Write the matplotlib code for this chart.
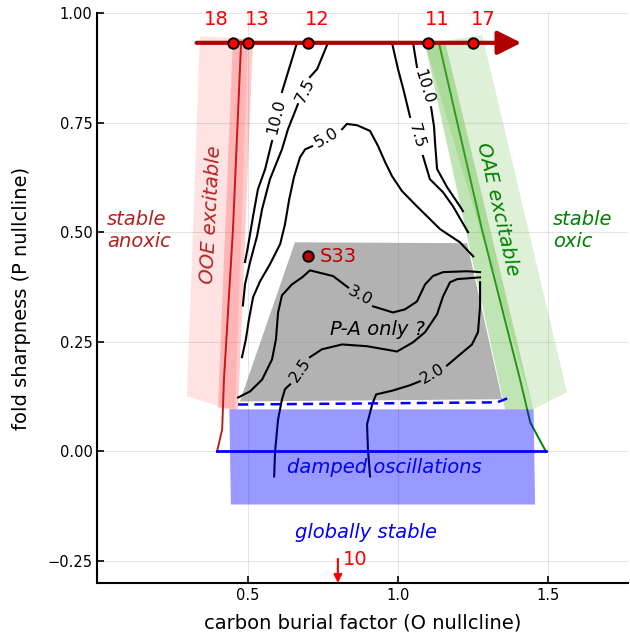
import numpy as np
import matplotlib.pyplot as plt

# runs marked along the parameter sweep at the top
run_labels = ["18", "13", "12", "11", "17"]
run_x = [0.45, 0.50, 0.70, 1.10, 1.25]
sweep_y = 0.932
sweep_x = [0.33, 1.41]
s33_x, s33_y = 0.70, 0.445
run10_x = 0.80

# fold lines of the two nullclines and the base line at zero
ooe_x = [0.478, 0.451, 0.421, 0.415, 0.398]
ooe_y = [0.932, 0.507, 0.164, 0.050, 0.0]
oae_x = [1.136, 1.279, 1.406, 1.440, 1.492]
oae_y = [0.932, 0.507, 0.164, 0.066, 0.0]
base_x = [0.398, 1.492]

# shaded regions
ooe_wide_x = [0.341, 0.501, 0.458, 0.298]
ooe_wide_y = [0.947, 0.941, 0.091, 0.126]
ooe_core_x = [0.451, 0.518, 0.468, 0.401]
ooe_core_y = [0.941, 0.941, 0.096, 0.100]
oae_wide_x = [1.090, 1.280, 1.562, 1.450]
oae_wide_y = [0.929, 0.950, 0.135, 0.096]
oae_core_x = [1.090, 1.156, 1.450, 1.356]
oae_core_y = [0.929, 0.936, 0.096, 0.096]
pa_x = [0.657, 1.230, 1.346, 0.474]
pa_y = [0.477, 0.475, 0.119, 0.114]
damped_x = [0.439, 1.451, 1.456, 0.444]
damped_y = [0.096, 0.096, -0.121, -0.121]
hopf_x = [0.468, 1.330, 1.363]
hopf_y = [0.107, 0.112, 0.121]

# period contours, each split in two where its label sits
p10a_x1 = [0.664, 0.614]
p10a_y1 = [0.932, 0.820]
p10a_x2 = [0.581, 0.558, 0.534, 0.518, 0.501, 0.491]
p10a_y2 = [0.708, 0.644, 0.598, 0.537, 0.468, 0.432]

p75a_x1 = [0.767, 0.731, 0.707]
p75a_y1 = [0.932, 0.872, 0.854]
p75a_x2 = [0.667, 0.634, 0.614, 0.574, 0.548, 0.531, 0.508, 0.491, 0.484]
p75a_y2 = [0.792, 0.735, 0.689, 0.621, 0.553, 0.491, 0.432, 0.381, 0.333]

p5_x1 = [0.481, 0.494, 0.504, 0.518, 0.541, 0.574, 0.608, 0.624, 0.638,
         0.654, 0.674, 0.691, 0.714]
p5_y1 = [0.215, 0.256, 0.301, 0.352, 0.388, 0.427, 0.473, 0.518, 0.575,
         0.626, 0.671, 0.689, 0.696]
p5_x2 = [0.814, 0.830, 0.864, 0.907, 0.934, 0.957, 0.980, 1.013, 1.063,
         1.106, 1.140, 1.206, 1.250]
p5_y2 = [0.735, 0.747, 0.744, 0.731, 0.696, 0.660, 0.628, 0.594, 0.559,
         0.530, 0.507, 0.477, 0.445]

p10b_x1 = [1.050, 1.063]
p10b_y1 = [0.932, 0.877]
p10b_x2 = [1.110, 1.120, 1.123, 1.130, 1.163, 1.206, 1.216]
p10b_y2 = [0.785, 0.740, 0.706, 0.644, 0.603, 0.559, 0.548]

p75b_x1 = [0.980, 1.000, 1.020, 1.040]
p75b_y1 = [0.932, 0.872, 0.820, 0.763]
p75b_x2 = [1.083, 1.106, 1.150, 1.183, 1.233]
p75b_y2 = [0.674, 0.621, 0.591, 0.559, 0.500]

p3_x1 = [0.468, 0.508, 0.548, 0.581, 0.594, 0.601, 0.614, 0.647, 0.681,
         0.707, 0.784, 0.834]
p3_y1 = [0.123, 0.137, 0.164, 0.210, 0.256, 0.317, 0.356, 0.381, 0.397,
         0.413, 0.400, 0.374]
p3_x2 = [0.917, 0.983, 1.023, 1.063, 1.090, 1.116, 1.150, 1.230, 1.273]
p3_y2 = [0.331, 0.317, 0.324, 0.342, 0.381, 0.400, 0.409, 0.411, 0.409]

p25_x1 = [0.588, 0.591, 0.601, 0.614, 0.624, 0.641]
p25_y1 = [-0.057, 0.000, 0.073, 0.119, 0.142, 0.153]
p25_x2 = [0.707, 0.747, 0.814, 0.897, 0.997, 1.050, 1.090, 1.130, 1.150,
          1.173, 1.197, 1.273]
p25_y2 = [0.215, 0.233, 0.244, 0.240, 0.228, 0.249, 0.272, 0.313, 0.354,
          0.386, 0.393, 0.397]

p2_x1 = [0.907, 0.900, 0.897, 0.914, 0.927, 0.983, 1.040, 1.073]
p2_y1 = [-0.057, 0.005, 0.062, 0.107, 0.130, 0.139, 0.151, 0.160]
p2_x2 = [1.163, 1.206, 1.246, 1.266, 1.273, 1.273]
p2_y2 = [0.196, 0.221, 0.244, 0.272, 0.331, 0.386]

contours = [
    (p10a_x1, p10a_y1, p10a_x2, p10a_y2, "10.0", 0.595, 0.763, 76),
    (p75a_x1, p75a_y1, p75a_x2, p75a_y2, "7.5", 0.690, 0.824, 64),
    (p5_x1, p5_y1, p5_x2, p5_y2, "5.0", 0.763, 0.715, 30),
    (p10b_x1, p10b_y1, p10b_x2, p10b_y2, "10.0", 1.087, 0.831, -73),
    (p75b_x1, p75b_y1, p75b_x2, p75b_y2, "7.5", 1.063, 0.719, -74),
    (p3_x1, p3_y1, p3_x2, p3_y2, "3.0", 0.874, 0.354, -28),
    (p25_x1, p25_y1, p25_x2, p25_y2, "2.5", 0.674, 0.185, 55),
    (p2_x1, p2_y1, p2_x2, p2_y2, "2.0", 1.116, 0.178, 30),
]

dark_red = "#b22222"
green = "#008000"

fig = plt.figure(figsize=(6.3, 6.37), dpi=100)
ax = fig.add_axes([0.1546, 0.0848, 0.8422, 0.8948])

# nullcline fold lines sit under the shaded bands
ax.plot(ooe_x, ooe_y, color=dark_red, lw=1.4, zorder=1)
ax.plot(oae_x, oae_y, color=green, lw=1.4, zorder=1)

ax.fill(ooe_wide_x, ooe_wide_y, color="red", alpha=0.11, lw=0, zorder=2)
ax.fill(ooe_core_x, ooe_core_y, color="red", alpha=0.2, lw=0, zorder=2)
ax.fill(oae_wide_x, oae_wide_y, color="#5cb83a", alpha=0.2, lw=0, zorder=2)
ax.fill(oae_core_x, oae_core_y, color="#5cb83a", alpha=0.38, lw=0, zorder=2)
ax.fill(pa_x, pa_y, color="0.5", alpha=0.6, lw=0, zorder=2)

for x1, y1, x2, y2, lab, lx, ly, rot in contours:
    ax.plot(x1, y1, color="black", lw=1.5, zorder=3)
    ax.plot(x2, y2, color="black", lw=1.5, zorder=3)
    ax.text(lx, ly, lab, fontsize=11.5, rotation=rot, ha="center",
            va="center", rotation_mode="anchor", zorder=3)

ax.fill(damped_x, damped_y, color="blue", alpha=0.4, lw=0, zorder=4)
ax.plot(base_x, [0, 0], color="blue", lw=2, zorder=5)
ax.plot(hopf_x, hopf_y, color="blue", lw=1.8, ls=(0, (4, 2.5)), zorder=5)

# sweep arrow with the marked runs
ax.annotate("", xy=(sweep_x[1], sweep_y), xytext=(sweep_x[0], sweep_y),
            arrowprops=dict(arrowstyle="-|>", color="#b00000", lw=3,
                            mutation_scale=36, shrinkA=0, shrinkB=0),
            zorder=6)
ax.plot(run_x, [sweep_y] * len(run_x), "o", ms=7.5, mfc="red", mec="black",
        mew=1.4, zorder=7)
for i, (lab, x) in enumerate(zip(run_labels, run_x)):
    # the first label is pushed left so it clears its neighbour
    if i == 0:
        ax.annotate(lab, (x, 0.985), xytext=(-3, 0), textcoords="offset points",
                    color="red", fontsize=14, ha="right", va="center")
    else:
        ax.annotate(lab, (x, 0.985), xytext=(-2, 0), textcoords="offset points",
                    color="red", fontsize=14, ha="left", va="center")

ax.plot([s33_x], [s33_y], "o", ms=7.5, mfc="#c00000", mec="black", mew=1.4,
        zorder=7)
ax.text(s33_x + 0.04, s33_y, "S33", color="#c00000", fontsize=14,
        va="center")

ax.annotate("", xy=(run10_x, -0.30), xytext=(run10_x, -0.245),
            arrowprops=dict(arrowstyle="-|>", color="red", lw=1.5,
                            mutation_scale=12, shrinkA=0, shrinkB=0))
ax.text(run10_x + 0.015, -0.247, "10", color="red", fontsize=14, va="center")

# region labels
ax.text(0.032, 0.504, "stable\nanoxic", color=dark_red, fontsize=14,
        style="italic", va="center", linespacing=1.25)
ax.text(1.516, 0.504, "stable\noxic", color=green, fontsize=14,
        style="italic", va="center", linespacing=1.25)
ax.text(0.378, 0.541, "OOE excitable", color=dark_red, fontsize=14,
        style="italic", rotation=87, ha="center", va="center")
ax.text(1.330, 0.553, "OAE excitable", color=green, fontsize=14,
        style="italic", rotation=-77, ha="center", va="center")
ax.text(0.931, 0.279, "P-A only ?", fontsize=14, style="italic",
        ha="center", va="center", zorder=4)
ax.text(0.953, -0.037, "damped oscillations", color="blue", fontsize=14,
        style="italic", ha="center", va="center", zorder=6)
ax.text(0.894, -0.185, "globally stable", color="blue", fontsize=14,
        style="italic", ha="center", va="center")

ax.set_xlim(0, 1.765)
ax.set_ylim(-0.3, 1.0)
ax.set_xticks([0.5, 1.0, 1.5])
ax.set_yticks([-0.25, 0.0, 0.25, 0.5, 0.75, 1.0])
ax.set_yticklabels(["\u22120.25", "0.00", "0.25", "0.50", "0.75", "1.00"])
ax.tick_params(direction="in", length=5, width=1.2, labelsize=10.5)
ax.grid(True, color="black", alpha=0.1, lw=0.8)
ax.set_axisbelow(True)
for side in ("top", "right"):
    ax.spines[side].set_visible(False)
for side in ("left", "bottom"):
    ax.spines[side].set_linewidth(1.5)
ax.set_xlabel("carbon burial factor (O nullcline)", fontsize=14, labelpad=8)
ax.set_ylabel("fold sharpness (P nullcline)", fontsize=14, labelpad=12)

fig.savefig("out.png", dpi=100)
